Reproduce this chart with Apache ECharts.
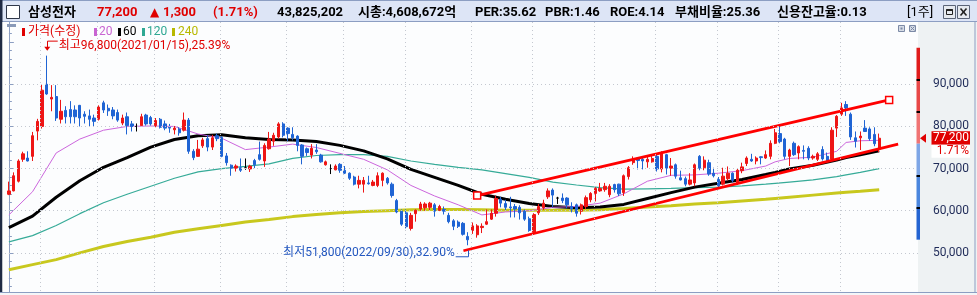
<!DOCTYPE html>
<html>
<head>
<meta charset="utf-8">
<script src="https://cdn.jsdelivr.net/npm/echarts@6/dist/echarts.min.js"></script>
<style>
  html, body { margin: 0; padding: 0; background: #fff; }
  #chart { width: 977px; height: 295px; }
</style>
</head>
<body>
<div id="chart"></div>
<script>
// weekly candles (index 0 = first visible week)
const opens = [
  63900,64700,67000,72200,72500,72900,78900,80000,90000,86500,
  87100,81700,83800,84000,83900,85000,82900,82500,82000,81700,
  85600,84300,83900,83300,80800,82300,80600,80000,80200,82700,
  82100,80200,81700,80600,79800,79200,79400,79100,81500,74100,
  72900,75400,77100,75100,77800,77400,73000,70800,70100,70200,
  70200,69900,71900,73300,71800,74700,76500,77500,80600,79600,
  78100,77700,75600,74700,73200,74400,73200,70900,70000,69700,
  71000,69600,68900,68000,66300,66300,66600,66000,66000,67200,
  67700,66300,62400,59900,59500,55800,59300,60400,60700,60800,
  61400,60100,60300,58900,57600,57300,57000,53900,55300,54300,
  56000,56800,58000,59400,62700,61700,60900,61000,60800,59900,
  58100,54900,59500,60700,63300,64900,63000,63000,63000,61000,
  61400,59900,61000,62600,64100,64700,65000,63800,66200,66300,
  64300,68100,71400,72500,72200,71600,71600,72900,69900,73300,
  70100,70900,67800,67600,66300,66600,72900,70200,71400,68900,
  67400,66300,67600,68900,66600,69500,71200,72200,71800,72800,
  72500,72900,76000,78300,77000,72900,76000,73700,74300,74800,
  72500,72200,74500,72900,72200,79600,82900,85200,82900,77300,
  77300,79600,79400,78100,74600
];
const closes = [
  64700,68300,71800,73500,71800,77800,81200,88600,87700,86900,
  82000,83600,82300,82300,82300,82000,82400,81700,81200,84600,
  83900,83700,82500,81500,82000,80200,80000,80000,82300,80600,
  80600,81400,79800,79600,79600,79600,78500,81500,74100,72600,
  74600,76800,75100,77300,77100,72900,71400,70100,70600,69600,
  70200,70600,70900,72200,75500,77000,77900,80600,77900,78300,
  77300,75500,72900,73800,74800,74000,71600,71600,70000,70600,
  69600,68900,67700,66300,67200,67200,66400,66800,68300,68900,
  66600,63600,59700,56800,56200,58900,60100,61600,61600,61800,
  59900,61000,59900,57400,56300,56300,54400,53100,56400,56400,
  56300,57400,59400,62900,61800,60800,60700,60400,59500,58000,
  55300,59100,61000,61800,64700,63700,63000,62400,61400,60400,
  59400,61400,63100,64100,65300,65300,65800,65800,65000,64000,
  68300,70200,72400,71900,71800,72200,72400,69900,73700,70100,
  70600,68200,67300,66300,67300,70900,70100,72000,68700,68300,
  65900,68200,68900,67200,69600,70400,72500,71800,72500,72600,
  73300,76000,78500,76400,72900,74400,73300,75200,74100,72500,
  72900,73500,72300,72000,79100,82400,84400,84400,77500,76500,
  77700,78800,77100,75900,77200
];
const lows = [
  63700,64600,66700,71600,71700,71800,76700,79500,87500,83600,
  81300,80700,80700,80700,80700,80000,80700,80000,80000,81400,
  83200,82500,81700,81100,80300,78100,78800,78800,79900,80200,
  80200,79800,79500,79100,78500,78100,77800,78800,73500,72000,
  72800,74900,74100,74400,76500,72700,70700,68300,69300,69200,
  69700,69200,70100,71900,70400,74500,75400,77100,77400,76500,
  76700,74100,71000,73000,72400,73500,71400,70700,68700,69600,
  69000,68700,67300,66000,65300,64300,66200,65800,65600,65800,
  66200,63100,59400,56400,55800,55300,57400,60000,60000,60100,
  58600,59900,59100,57000,55400,55900,54100,51800,54500,53600,
  54700,56600,57800,58600,60800,60100,58400,58400,57900,57600,
  55000,54300,59000,60200,62800,60800,61600,61800,60600,59600,
  58600,59100,60400,62000,62200,64500,64500,63200,64300,63500,
  63500,67400,70900,69800,69800,70200,71400,69300,69100,68600,
  68300,67600,67200,65800,66000,65800,69600,69600,68300,67900,
  65300,66000,67200,66700,66100,68900,70600,71600,71000,71000,
  72300,72200,75800,76000,72200,70600,73000,72200,72200,72000,
  72100,71800,71900,71600,71900,77500,82500,82500,76800,75000,
  74400,78700,76600,75300,73900
];
const highs = [
  66900,69100,72200,74000,74100,78700,81800,90000,96800,89800,
  89800,86300,84800,86000,85000,85100,83600,84000,82800,85000,
  86100,85200,84600,84000,82800,83300,81300,80700,83000,83000,
  82500,82000,82000,81400,80600,80100,79800,83300,82000,74600,
  76800,77300,77900,78000,78300,77700,73700,71000,71000,72400,
  72400,70900,72300,76400,76000,78700,78500,81000,81000,79800,
  79800,77900,75800,75000,75800,75800,73500,71900,71000,71000,
  71300,70600,69100,68300,68300,68000,68300,67300,69100,69100,
  68000,66700,62800,60300,60300,59500,60300,62100,62000,62100,
  61800,61400,61000,59500,58000,57700,57300,54900,57200,56800,
  57000,60300,60300,63600,63300,62600,63300,61600,61300,60300,
  58600,59400,61600,62600,65300,65300,63300,64100,63200,62000,
  61700,61700,63600,64400,65600,66600,66600,66300,66400,66400,
  68600,70600,72900,72700,72900,73000,73000,73400,74100,73500,
  72500,71200,69500,68100,68900,71200,73200,72900,72100,70200,
  68000,70200,70500,69100,70000,71400,72900,73500,72900,72900,
  74300,76700,79400,80200,77300,74700,76400,75500,75500,75300,
  73300,73900,75300,73800,79800,82700,85600,86000,83300,78800,
  78800,81500,79800,79800,78300
];

// moving averages, read at these week indices
const maIdx = [0,5,10,15,20,25,30,35,40,45,50,55,60,65,70,75,80,85,90,95,
  100,105,110,115,120,125,130,135,140,145,150,155,160,162,165,170,175,177,180,184];
const ma20 = [59000,64500,73700,77000,79100,80000,80100,80000,78200,77200,
  74500,75100,75800,75000,73600,72200,69700,66000,63500,61400,
  59000,59700,60000,60800,61000,61800,64000,67000,68400,68500,
  68900,69500,70600,71600,72400,72700,74100,76200,76600,76700];
const ma60 = [56000,58700,63200,67100,70300,72600,75100,76900,77800,78000,
  77300,76900,76800,76400,75500,74200,72300,69800,67900,66000,
  63900,62700,61700,61000,60700,60900,61500,62900,64300,65600,
  66500,67400,68600,69100,69900,70800,72000,72600,73300,74200];
const ma120 = [52600,54100,56500,59300,61900,63900,65800,67700,69200,70000,
  70500,71100,72400,73100,73300,73300,72900,71800,71000,70300,
  69700,68800,67900,66800,66100,65500,65100,65200,65300,65500,
  65600,65900,66300,66500,66800,67300,68100,68500,69100,70000];
const ma240 = [46000,47200,48400,50000,51500,52700,53700,54900,55700,56500,
  57300,57900,58600,59100,59500,59800,60000,60200,60300,60300,
  60200,60100,60100,60100,60100,60200,60500,60900,61200,61600,
  61900,62300,62700,62900,63200,63700,64200,64400,64600,65000];

// trend channel drawn on the chart: [week index, price]
const upperTrend = [[99, 63600], [186.1, 86300]];
const lowerTrend = [[96.1, 50500], [188, 75800]];

// first week of each quarter (dotted vertical grid)
const quarterWeeks = [7,19,31,45,59,71,84,98,111,124,137,150,163,176];
const priceTicks = [50000,60000,70000,80000,90000];

const highDate = '2021/01/15';
const lowDate = '2022/09/30';
const volume = '43,825,202';
const marketCap = '4,608,672';
const ratios = ['PER:35.62', 'PBR:1.46', 'ROE:4.14', '부채비율:25.36', '신용잔고율:0.13'];

const RED = '#ee1515', BLUE = '#1f64d4';
const fmt = v => v.toLocaleString('en-US');

const chart = echarts.init(document.getElementById('chart'));
const candles = closes.map((c, i) => [i, opens[i], c, lows[i], highs[i]]);
const maLine = vals => maIdx.map((x, k) => [x, vals[k]]);

chart.setOption({
  animation: false,
  backgroundColor: '#eef2f3',
  grid: { left: 5, right: 59, top: -3, bottom: -6.5, show: true, backgroundColor: '#fcfdfe', borderWidth: 0 },
  xAxis: { type: 'value', min: -0.82, max: 192.2, show: false },
  yAxis: {
    type: 'value', position: 'right', min: 40000, max: 110000, interval: 10000,
    axisLine: { show: true, lineStyle: { color: '#8c9ec2' } },
    axisTick: { show: true, length: 5, lineStyle: { color: '#8c9ec2' } },
    minorTick: { show: true, splitNumber: 5, length: 3, lineStyle: { color: '#8c9ec2' } },
    splitLine: { show: false },
    axisLabel: {
      margin: 15, color: '#1f2b58', fontFamily: 'Roboto', fontSize: 12,
      formatter: v => priceTicks.includes(v) ? fmt(v) : ''
    }
  },
  series: [
    {
      type: 'line', data: [], z: 1, silent: true,
      markLine: {
        silent: true, symbol: 'none', label: { show: false },
        lineStyle: { color: '#c4c8d0', type: [1, 3], width: 1 },
        data: quarterWeeks.map(w => ({ xAxis: w - 0.3 })).concat(priceTicks.map(v => ({ yAxis: v })))
      }
    },
    { type: 'line', data: maLine(ma240), symbol: 'none', z: 2, silent: true, lineStyle: { color: '#c8c81e', width: 3 } },
    { type: 'line', data: maLine(ma120), symbol: 'none', z: 2, silent: true, lineStyle: { color: '#36ab98', width: 1.2 } },
    { type: 'line', data: maLine(ma60), symbol: 'none', z: 2, silent: true, lineStyle: { color: '#000000', width: 3 } },
    { type: 'line', data: maLine(ma20), symbol: 'none', z: 2, silent: true, lineStyle: { color: '#cc66dd', width: 1 } },
    {
      type: 'candlestick', data: candles, z: 3, barWidth: 2.8, silent: true,
      itemStyle: {
        color: RED, color0: BLUE, borderColor: RED, borderColor0: BLUE,
        borderColorDoji: '#000', borderWidth: 1
      }
    },
    {
      type: 'line', data: upperTrend, z: 4, silent: true,
      symbol: 'rect', symbolSize: 7, showSymbol: true,
      itemStyle: { color: '#ffffff', borderColor: '#ff0000', borderWidth: 1.5 },
      lineStyle: { color: '#ff0000', width: 2.8 }
    },
    {
      type: 'line', data: lowerTrend, z: 4, silent: true, symbol: 'none',
      lineStyle: { color: '#ff0000', width: 2.8 }
    }
  ]
});

// ---- decorations that depend on data positions ----
const toPx = (x, y) => chart.convertToPixel({ xAxisIndex: 0, yAxisIndex: 0 }, [x, y]);
const last = closes[closes.length - 1];
const prev = closes[closes.length - 2];
const chg = last - prev;
const chgPct = (chg / prev * 100).toFixed(2);

const g = [];
const rect = (x, y, w, h, fill, stroke, z) => g.push({
  type: 'rect', z: z || 10, silent: true, shape: { x, y, width: w, height: h },
  style: { fill: fill || null, stroke: stroke || null, lineWidth: 1 }
});
const text = (x, y, s, fill, font, align) => g.push({
  type: 'text', z: 12, silent: true,
  style: { text: s, x, y, fill, font, align: align || 'left', verticalAlign: 'middle' }
});
const poly = (pts, stroke, lw) => g.push({
  type: 'polyline', z: 11, silent: true, shape: { points: pts },
  style: { stroke, lineWidth: lw || 1, fill: null }
});

const TITLE = 'bold 13px Roboto, "Noto Sans CJK KR"';
const SMALL = '12px Roboto, "Noto Sans CJK KR"';

// frame
rect(0, 0, 2.5, 295, '#1e2a44');
rect(2.5, 22, 2.5, 270, '#fcfdfe');
rect(0, 292, 977, 1, '#8c9ec2');
rect(0, 293, 977, 2, '#f4f6f8');
rect(974.5, 22, 1, 270, '#8c9ec2');

// title bar
rect(0, 0, 977, 22, '#dde5f6');
rect(0, 0, 977, 1, '#8c9ec2');
rect(0, 21, 977, 1, '#8c9ec2');
rect(0, 0, 2.5, 22, '#1e2a44');
rect(6.5, 5.5, 13, 13, '#ffffff', '#30384a');
text(28, 12.5, '삼성전자', '#000', TITLE);
text(97, 12.5, fmt(last), '#e00000', TITLE);
text(150, 12.5, '▲', '#e00000', 'bold 12px "DejaVu Sans"');
text(163, 12.5, fmt(chg), '#e00000', TITLE);
text(213, 12.5, '(' + chgPct + '%)', '#e00000', TITLE);
text(277, 12.5, volume, '#000', TITLE);
text(358, 12.5, '시총:' + marketCap + '억', '#000', TITLE);
[475, 545, 610, 675, 777].forEach((x, k) => text(x, 12.5, ratios[k], '#000', TITLE));
text(907, 12.5, '[1주]', '#000', '13px Roboto, "Noto Sans CJK KR"');
rect(943.5, 5.5, 12, 13, '#e6eaf0', '#5a6478');
rect(946.5, 9.5, 6, 5, null, '#222');
rect(946.5, 9, 6, 2, '#222');
rect(957.5, 5.5, 12, 13, '#e6eaf0', '#5a6478');
poly([[960.5, 8.5], [966.5, 15.5]], '#222', 1.6);
poly([[966.5, 8.5], [960.5, 15.5]], '#222', 1.6);

// small plot buttons
rect(898.5, 25.5, 6, 6, '#d6dce6', '#7c8aa6');
rect(900.5, 27.5, 2, 2, '#7c8aa6');
rect(909.5, 25.5, 6, 6, '#d6dce6', '#7c8aa6');
poly([[910.5, 26.5], [914.5, 30.5]], '#7c8aa6', 1);
poly([[914.5, 26.5], [910.5, 30.5]], '#7c8aa6', 1);

// legend
rect(7, 24, 9, 3, '#8a9ab8');
[[22, 28, '#e00000', '가격(수정)'], [94, 99, '#c864d2', '20'], [118, 123, '#000', '60'],
 [142, 147, '#2fa893', '120'], [172, 178, '#b8b800', '240']].forEach(([bx, tx, c, s]) => {
  rect(bx, 28, 3, 8, c);
  text(tx, 32, s, c, SMALL);
});

// highest / lowest annotations
const hiIdx = highs.indexOf(Math.max(...highs));
const loIdx = lows.indexOf(Math.min(...lows));
const hi = toPx(hiIdx, highs[hiIdx]);
const lo = toPx(loIdx, lows[loIdx]);
const hiPct = ((highs[hiIdx] - last) / last * 100).toFixed(2);
const loPct = ((last - lows[loIdx]) / last * 100).toFixed(2);
poly([[hi[0] + 11, hi[1] - 14.5], [Math.round(hi[0]) + 0.5, hi[1] - 14.5], [Math.round(hi[0]) + 0.5, hi[1] - 7]], '#e00000', 1);
g.push({ type: 'polygon', z: 11, silent: true,
  shape: { points: [[hi[0] - 2.5, hi[1] - 9], [hi[0] + 3.5, hi[1] - 9], [hi[0] + 0.5, hi[1] - 5]] },
  style: { fill: '#e00000' } });
text(hi[0] + 12, hi[1] - 10, '최고' + fmt(highs[hiIdx]) + '(' + highDate + '),' + hiPct + '%', '#e00000', SMALL);
poly([[lo[0] - 12, lo[1] + 11.5], [Math.round(lo[0]) + 0.5, lo[1] + 11.5], [Math.round(lo[0]) + 0.5, lo[1] + 5]], '#2458c0', 1);
text(lo[0] - 13, lo[1] + 8, '최저' + fmt(lows[loIdx]) + '(' + lowDate + '),' + loPct + '%', '#2458c0', SMALL, 'right');

// price-limit gauge beside the axis (±30% of previous close, 10% steps)
const gaugeColors = ['#e01c1c', '#e84848', '#f07474', '#7ea6e6', '#4a86de', '#2464d2'];
for (let k = 3; k > -3; k--) {
  const yTop = toPx(0, prev * (1 + k / 10))[1];
  const yBot = toPx(0, prev * (1 + (k - 1) / 10))[1];
  rect(916.5, yTop, 3.5, yBot - yTop, gaugeColors[3 - k]);
}
[2, 1, -1, -2].forEach(k => rect(916.5, Math.round(toPx(0, prev * (1 + k / 10))[1]) - 1, 3.5, 2, '#000'));

// current price tag
const py = toPx(0, last)[1];
g.push({ type: 'polygon', z: 11, silent: true,
  shape: { points: [[920, py], [926, py - 4.5], [926, py + 4.5]] }, style: { fill: '#e00000' } });
rect(931.5, py - 7, 38.5, 13.5, '#e00000');
text(969, py, fmt(last), '#ffffff', '12px Roboto', 'right');
rect(931.5, py + 6.5, 38.5, 13, '#ffffff');
text(969, py + 13, chgPct + '%', '#e00000', '12px Roboto', 'right');

chart.setOption({ graphic: { elements: g } });
</script>
</body>
</html>
